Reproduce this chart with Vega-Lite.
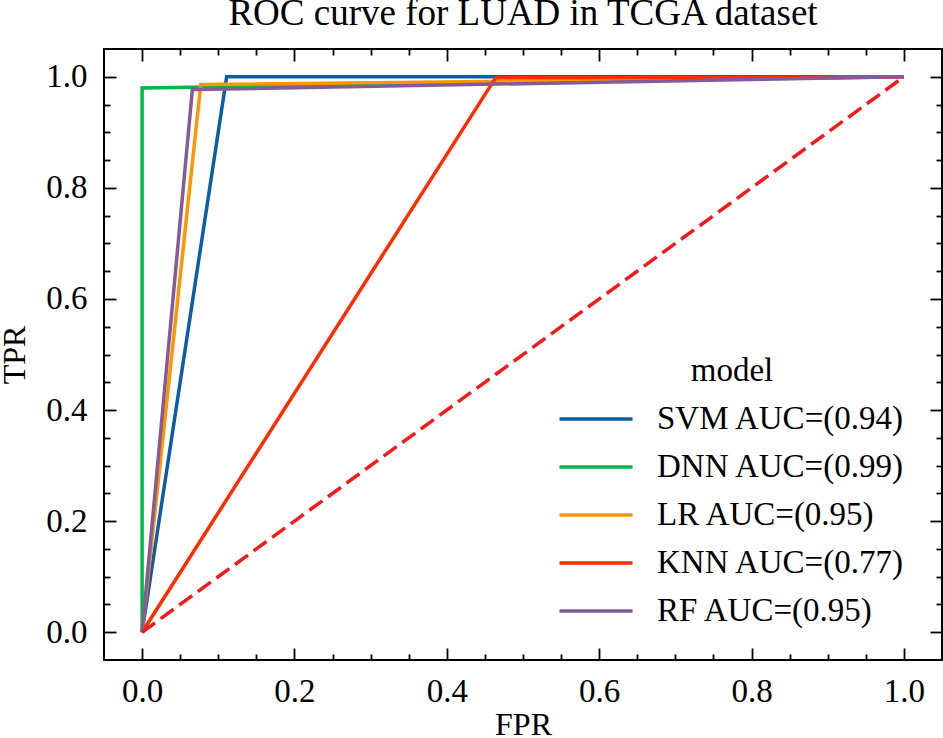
{
  "$schema": "https://vega.github.io/schema/vega-lite/v6.json",
  "width": 838,
  "height": 611,
  "autosize": {"type": "none"},
  "padding": {"left": 104, "top": 49, "right": 1, "bottom": 78},
  "title": {"text": "ROC curve for LUAD in TCGA dataset", "font": "Liberation Serif", "fontSize": 37, "fontWeight": "normal", "color": "black", "anchor": "middle", "baseline": "alphabetic", "offset": -14},
  "datasets": {
    "roc": [
      {"model": "SVM AUC=(0.94)", "step": 0, "fpr": 0, "tpr": 0},
      {"model": "SVM AUC=(0.94)", "step": 1, "fpr": 0.111, "tpr": 1.0},
      {"model": "SVM AUC=(0.94)", "step": 2, "fpr": 1, "tpr": 1},
      {"model": "DNN AUC=(0.99)", "step": 0, "fpr": 0, "tpr": 0},
      {"model": "DNN AUC=(0.99)", "step": 1, "fpr": 0, "tpr": 0.98},
      {"model": "DNN AUC=(0.99)", "step": 2, "fpr": 1, "tpr": 1},
      {"model": "LR AUC=(0.95)", "step": 0, "fpr": 0, "tpr": 0},
      {"model": "LR AUC=(0.95)", "step": 1, "fpr": 0.077, "tpr": 0.986},
      {"model": "LR AUC=(0.95)", "step": 2, "fpr": 1, "tpr": 1},
      {"model": "KNN AUC=(0.77)", "step": 0, "fpr": 0, "tpr": 0},
      {"model": "KNN AUC=(0.77)", "step": 1, "fpr": 0.464, "tpr": 0.998},
      {"model": "KNN AUC=(0.77)", "step": 2, "fpr": 1, "tpr": 1},
      {"model": "RF AUC=(0.95)", "step": 0, "fpr": 0, "tpr": 0},
      {"model": "RF AUC=(0.95)", "step": 1, "fpr": 0.066, "tpr": 0.977},
      {"model": "RF AUC=(0.95)", "step": 2, "fpr": 1, "tpr": 1}
    ],
    "diag": [{"fpr": 0, "tpr": 0}, {"fpr": 1, "tpr": 1}]
  },
  "layer": [
    {
      "data": {"name": "roc"},
      "mark": {"type": "line", "strokeWidth": 3.5},
      "encoding": {
        "x": {"field": "fpr", "type": "quantitative", "scale": {"domain": [-0.05, 1.05], "nice": false, "zero": false},
          "axis": {"orient": "bottom", "values": [0, 0.2, 0.4, 0.6, 0.8, 1], "format": ".1f", "tickSize": -12, "labelPadding": 27, "title": "FPR", "titleBaseline": "alphabetic", "titleY": 74}},
        "y": {"field": "tpr", "type": "quantitative", "scale": {"domain": [-0.05, 1.05], "nice": false, "zero": false},
          "axis": {"orient": "left", "values": [0, 0.2, 0.4, 0.6, 0.8, 1], "format": ".1f", "tickSize": -12, "labelPadding": 29, "title": "TPR", "titleBaseline": "alphabetic", "titleX": -80}},
        "color": {"field": "model", "type": "nominal",
          "scale": {"domain": ["SVM AUC=(0.94)", "DNN AUC=(0.99)", "LR AUC=(0.95)", "KNN AUC=(0.77)", "RF AUC=(0.95)"], "range": ["#0C5DA5", "#00B945", "#FF9500", "#FF2C00", "#845B97"]},
          "legend": {"title": "model", "orient": "none", "legendX": 455, "legendY": 306, "symbolType": "M-1.1,0H3.77", "symbolSize": 900, "symbolStrokeWidth": 3.5, "labelOffset": 64, "rowPadding": 14, "titleAnchor": "middle", "titlePadding": 14, "padding": 0, "labelLimit": 400}},
        "order": {"field": "step"}
      }
    },
    {
      "data": {"name": "diag"},
      "mark": {"type": "line", "color": "#f41a1a", "strokeWidth": 3.5, "strokeDash": [16, 7]},
      "encoding": {
        "x": {"field": "fpr", "type": "quantitative", "axis": {"orient": "top", "values": [0, 0.2, 0.4, 0.6, 0.8, 1], "labels": false, "tickSize": -12, "title": null}},
        "y": {"field": "tpr", "type": "quantitative", "axis": {"orient": "right", "values": [0, 0.2, 0.4, 0.6, 0.8, 1], "labels": false, "tickSize": -12, "title": null}}
      }
    },
    {
      "data": {"name": "diag"},
      "mark": {"type": "line", "opacity": 0},
      "encoding": {
        "x": {"field": "fpr", "type": "quantitative", "axis": {"orient": "bottom", "values": [0.05, 0.1, 0.15, 0.25, 0.3, 0.35, 0.45, 0.5, 0.55, 0.65, 0.7, 0.75, 0.85, 0.9, 0.95], "labels": false, "tickSize": -6, "title": null}},
        "y": {"field": "tpr", "type": "quantitative", "axis": {"orient": "left", "values": [0.05, 0.1, 0.15, 0.25, 0.3, 0.35, 0.45, 0.5, 0.55, 0.65, 0.7, 0.75, 0.85, 0.9, 0.95], "labels": false, "tickSize": -6, "title": null}}
      }
    },
    {
      "data": {"name": "diag"},
      "mark": {"type": "line", "opacity": 0},
      "encoding": {
        "x": {"field": "fpr", "type": "quantitative", "axis": {"orient": "top", "values": [0.05, 0.1, 0.15, 0.25, 0.3, 0.35, 0.45, 0.5, 0.55, 0.65, 0.7, 0.75, 0.85, 0.9, 0.95], "labels": false, "tickSize": -6, "title": null}},
        "y": {"field": "tpr", "type": "quantitative", "axis": {"orient": "right", "values": [0.05, 0.1, 0.15, 0.25, 0.3, 0.35, 0.45, 0.5, 0.55, 0.65, 0.7, 0.75, 0.85, 0.9, 0.95], "labels": false, "tickSize": -6, "title": null}}
      }
    }
  ],
  "resolve": {"axis": {"x": "independent", "y": "independent"}},
  "config": {
    "view": {"stroke": "black", "strokeWidth": 2},
    "axis": {"grid": false, "domain": false, "tickColor": "black", "tickWidth": 1.8, "labelFont": "Liberation Serif", "labelFontSize": 33, "labelColor": "black", "titleFont": "Liberation Serif", "titleFontSize": 32, "titleFontWeight": "normal", "titleColor": "black"},
    "legend": {"labelFont": "Liberation Serif", "labelFontSize": 33, "labelColor": "black", "titleFont": "Liberation Serif", "titleFontSize": 33, "titleFontWeight": "normal", "titleColor": "black"}
  }
}
